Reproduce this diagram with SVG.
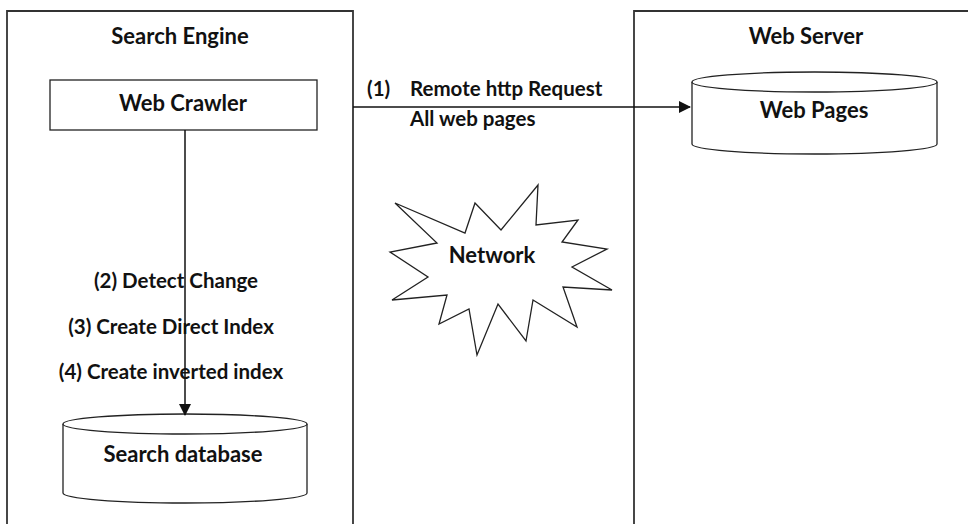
<svg xmlns="http://www.w3.org/2000/svg" width="968" height="524" viewBox="0 0 968 524">
<style>
  .frame { fill: none; stroke: #333; stroke-width: 1.8; }
  .shape { fill: #fff; stroke: #222; stroke-width: 1.3; }
  .edge { fill: none; stroke: #111; stroke-width: 1.5; }
  text { font-family: Lato, "Open Sans", "Liberation Sans", sans-serif; font-weight: bold; fill: #111; }
  .t { font-size: 22px; text-anchor: middle; }
  .l { font-size: 20.5px; }
</style>
<defs>
  <marker id="arr" markerWidth="12" markerHeight="12" refX="11" refY="6" orient="auto" markerUnits="userSpaceOnUse">
    <path d="M0,0 L12,6 L0,12 z" fill="#111"/>
  </marker>
</defs>
<rect width="968" height="524" fill="#fff"/>

<g id="search-engine">
  <path class="frame" d="M7,530 L7,11 L353,11 L353,530"/>
  <text class="t" x="180" y="44">Search Engine</text>
</g>

<g id="web-server">
  <path class="frame" d="M634,530 L634,11 L975,11"/>
  <text class="t" x="806" y="44">Web Server</text>
</g>

<g id="web-crawler">
  <rect class="shape" x="50" y="80" width="267" height="50"/>
  <text class="t" x="183" y="111">Web Crawler</text>
</g>

<g id="web-pages">
  <path class="shape" d="M692,82 L692,144 A122.5,10 0 0 0 937,144 L937,82"/>
  <ellipse class="shape" cx="814.5" cy="82" rx="122.5" ry="10"/>
  <text class="t" x="814" y="118">Web Pages</text>
</g>

<g id="search-database">
  <path class="shape" d="M63,424 L63,493 A122,10 0 0 0 307,493 L307,424"/>
  <ellipse class="shape" cx="185" cy="424" rx="122" ry="10"/>
  <text class="t" x="183" y="462">Search database</text>
</g>

<g id="network">
  <polygon class="shape" points="395,203 465,233 475,203 501,230 538,185 536,225 578,220 562,242 607,249 572,267 612,290 563,287 577,327 533,300 526,341 498,304 477,355 469,309 439,324 447,295 392,300 428,277 390,252 437,243"/>
  <text class="t" x="492" y="263">Network</text>
</g>

<g id="connectors">
  <line class="edge" x1="353" y1="107" x2="690" y2="107" marker-end="url(#arr)"/>
  <line class="edge" x1="185" y1="130" x2="185" y2="415" marker-end="url(#arr)"/>
  <text class="l" x="367" y="96">(1)</text>
  <text class="l" x="410" y="96">Remote http Request</text>
  <text class="l" x="410" y="126">All web pages</text>
  <text class="l" x="176" y="288" text-anchor="middle">(2) Detect Change</text>
  <text class="l" x="171" y="334" text-anchor="middle">(3) Create Direct Index</text>
  <text class="l" x="171" y="379" text-anchor="middle">(4) Create inverted index</text>
</g>
</svg>
